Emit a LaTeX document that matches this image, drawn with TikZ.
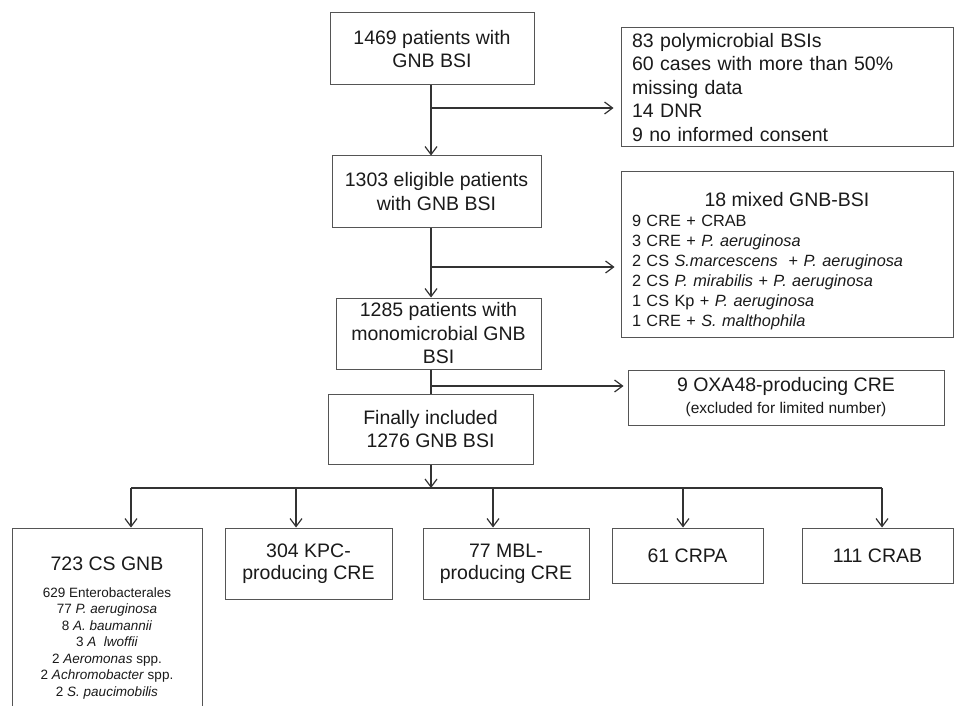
\documentclass[tikz,border=0pt]{standalone}
\usepackage{fontspec}
\setmainfont{Liberation Sans}
\usetikzlibrary{arrows.meta}
\definecolor{lncol}{HTML}{333333}
\definecolor{bxcol}{HTML}{555555}
\definecolor{txcol}{HTML}{1A1A1A}
\begin{document}
\begin{tikzpicture}[x=1pt,y=-1pt,
  box/.style={draw=bxcol, line width=1pt, inner sep=0pt, text=txcol,
    font=\fontsize{19.5}{23.5}\selectfont, align=center},
  arr/.style={draw=lncol, line width=1.2pt, -{Straight Barb[length=8pt,width=12pt]}},
  conn/.style={draw=lncol, line width=1.2pt}]
\useasboundingbox (0,0) rectangle (956,706);
\clip (0,0) rectangle (956,706);
\fill[white] (0,0) rectangle (956,706);

% main column
\node[box, minimum width=204pt, minimum height=72pt] (b1) at (432,49) {1469 patients with\\GNB BSI};
\node[box, minimum width=209pt, minimum height=71pt] (b2) at (436.5,191.5) {1303 eligible patients\\with GNB BSI};
\node[box, minimum width=205pt, minimum height=71pt] (b3) at (438.5,333.5) {1285 patients with\\monomicrobial GNB\\BSI};
\node[box, minimum width=205pt, minimum height=70pt] (b4) at (430.5,429) {Finally included\\1276 GNB BSI};

% exclusion boxes
\node[box, align=left, text width=310pt, inner xsep=11pt, minimum height=119pt] (r1) at (787,87.5)
  {83 polymicrobial BSIs\\60 cases with more than 50\%\\missing data\\14 DNR\\9 no informed consent};
\node[box, align=left, text width=310pt, inner xsep=11pt, minimum height=165pt,
  font=\fontsize{16.3}{20}\selectfont] (r2) at (787,254.5)
  {\noindent\makebox[\linewidth][c]{\rule{0pt}{27pt}\fontsize{19.5}{20}\selectfont 18 mixed GNB-BSI}\\
   9 CRE + CRAB\\
   3 CRE + \textit{P. aeruginosa}\\
   2 CS \textit{S.marcescens}\ \ + \textit{P. aeruginosa}\\
   2 CS \textit{P. mirabilis} + \textit{P. aeruginosa}\\
   1 CS Kp + \textit{P. aeruginosa}\\
   1 CRE + \textit{S. malthophila}};
\node[box, minimum width=316pt, minimum height=55pt, font=\fontsize{19.5}{22}\selectfont] (r3) at (786,397.5)
  {9 OXA48-producing CRE\\{\fontsize{15.5}{22}\selectfont (excluded for limited number)}};

% bottom row
\node[box, minimum width=190pt, minimum height=200pt, font=\fontsize{13.5}{16.5}\selectfont] (cA) at (107,628)
  {{\fontsize{19.5}{22}\selectfont 723 CS GNB}\\[10pt]
   629 Enterobacterales\\77 \textit{P. aeruginosa}\\8 \textit{A. baumannii}\\3 \textit{A\ \ lwoffii}\\
   2 \textit{Aeromonas} spp.\\2 \textit{Achromobacter} spp.\\2 \textit{S. paucimobilis}};
\node[box, minimum width=167pt, minimum height=71pt, font=\fontsize{19.5}{22}\selectfont] (cB) at (308.5,563.5) {304 KPC-\\producing CRE};
\node[box, minimum width=166pt, minimum height=71pt, font=\fontsize{19.5}{22}\selectfont] (cC) at (506,563.5) {77 MBL-\\producing CRE};
\node[box, minimum width=151pt, minimum height=55pt] (cD) at (687.5,555.5) {61 CRPA};
\node[box, minimum width=151pt, minimum height=55pt] (cE) at (877.5,555.5) {111 CRAB};

% junctions
\coordinate (j1) at (431,108);
\coordinate (j2) at (431,267);
\coordinate (j3) at (431,386);
\coordinate (hb) at (431,488);
\coordinate (hA) at (131,488);
\coordinate (hB) at (296,488);
\coordinate (hC) at (493,488);
\coordinate (hD) at (683,488);
\coordinate (hE) at (882,488);

% connectors
\draw[arr] (b1.south -| j1) -- (b2.north -| j1);
\draw[arr, shorten >=7pt] (j1) -- (j1 -| r1.west);
\draw[arr] (b2.south -| j2) -- (b3.north -| j2);
\draw[arr, shorten >=6pt] (j2) -- (j2 -| r2.west);
\draw[conn] (b3.south -| j3) -- (b4.north -| j3);
\draw[arr, shorten >=4pt] (j3) -- (j3 -| r3.west);
\draw[arr] (b4.south -| hb) -- (hb);
\draw[conn] (hA) -- (hE);
\draw[arr] (hA) -- (hA |- cA.north);
\draw[arr] (hB) -- (hB |- cB.north);
\draw[arr] (hC) -- (hC |- cC.north);
\draw[arr] (hD) -- (hD |- cD.north);
\draw[arr] (hE) -- (hE |- cE.north);
\end{tikzpicture}
\end{document}
